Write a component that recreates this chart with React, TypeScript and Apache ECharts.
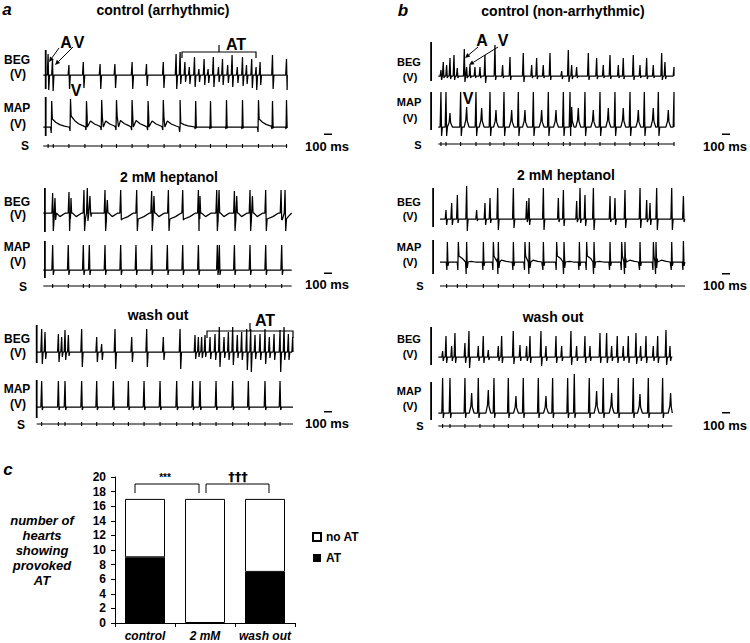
import React, { useEffect, useRef } from "react";
import * as echarts from "echarts";

// ===== Panel a : control (arrhythmic) — events [time ms, up, down, extra]
const aCtrlBEG = [[60,21,15],[115,16,16],[320,10,14],[500,13,13],[710,11,14],[895,11,13],[1110,13,14],[1290,11,11],[1500,13,13],[1660,21,14],[1710,23,9],[1770,13,7],[1825,8,9],[1890,18,12],[1945,6,7],[2010,16,10],[2060,6,8],[2125,18,12],[2190,8,7],[2240,16,10],[2305,10,8],[2360,20,12],[2425,8,8],[2490,18,11],[2540,10,9],[2605,16,13],[2660,8,15],[2710,13,10],[2865,20,14],[3040,16,15]];
const aCtrlMAP = [[105,26,6,8],[340,28,4,11],[540,26,3,10],[730,27,3,10],[915,27,3,11],[1110,27,3,11],[1310,26,3,10],[1500,27,3,10],[1710,27,5,4],[1905,26,2,0],[2090,26,2,0],[2290,27,2,0],[2490,27,2,0],[2690,27,5,8],[2865,26,2,0],[3040,27,2,0]];
const aCtrlS = [60,125,320,520,730,915,1110,1310,1510,1710,1905,2090,2290,2490,2690,2865,3040];

// ===== Panel a : 2 mM heptanol
const aHepBEG = [[117,20,18,6],[146,15,7,0],[321,21,18,6],[346,15,0,0],[508,23,18,6],[550,25,8,0],[583,17,0,0],[771,23,18,6],[800,13,0,0],[967,23,7,6],[1167,23,18,6],[1354,22,18,6],[1383,17,0,0],[1563,23,18,6],[1742,23,7,6],[1938,23,18,6],[1958,17,0,0],[2167,23,18,6],[2196,23,0,0],[2388,22,18,6],[2417,17,0,0],[2583,23,18,6],[2613,17,0,0],[2779,23,18,6],[2971,23,7,6],[3021,23,18,6]];
const aHepMAP = [[117,25,5],[312,25,5],[500,25,5],[575,25,5],[771,25,5],[967,25,5],[1158,25,5],[1354,25,5],[1550,25,5],[1742,25,5],[1938,25,5],[2175,25,5],[2200,25,5],[2388,25,5],[2583,25,5],[2779,25,5],[2979,25,5]];
const aHepS = [117,312,500,575,771,967,1158,1354,1550,1742,1938,2175,2200,2388,2583,2779,2979];

// ===== Panel a : wash out
const aWashBEG = [[62,23,12],[104,20,7],[271,18,10],[312,15,5],[354,22,8],[396,17,4],[562,23,15],[750,15,10],[812,8,8],[979,23,17],[1188,15,10],[1375,23,15],[1583,15,8],[1792,23,17],[1979,17,7],[2021,15,5],[2062,15,6],[2104,17,5],[2167,15,7],[2229,18,8],[2283,25,15],[2342,15,6],[2396,20,8],[2450,25,13],[2508,17,6],[2562,20,8],[2625,23,18],[2675,23,20],[2729,17,7],[2792,18,8],[2854,23,12],[2908,15,6],[2967,18,8],[3042,22,20],[3092,25,8],[3146,18,8],[3200,15,6]];
const aWashMAP = [[62,26,3],[271,26,3],[354,26,3],[562,26,3],[750,26,3],[958,26,3],[1146,26,3],[1342,26,3],[1542,26,3],[1750,26,3],[1950,26,3],[2042,26,3],[2242,26,3],[2450,26,3],[2646,26,3],[2854,26,3],[3042,26,3]];
const aWashS = [62,271,354,562,750,958,1146,1342,1542,1750,1950,2042,2242,2450,2646,2854,3042];

// ===== Panel b : control (non-arrhythmic)
const bCtrlBEG = [[33,6,4],[62,14,2],[104,11,2],[146,18,3],[196,21,4],[237,8,2],[325,27,6],[354,9,2],[396,11,2],[458,9,2],[521,9,2],[583,21,7],[708,31,4],[804,11,2],[896,19,4],[1062,23,6],[1167,11,2],[1229,18,3],[1312,11,2],[1396,23,4],[1542,5,3],[1625,26,6],[1667,11,3],[1729,9,2],[1875,23,4],[1979,18,3],[2062,11,2],[2146,21,3],[2250,11,2],[2312,18,3],[2437,21,4],[2521,11,2],[2604,18,3],[2687,11,2],[2792,23,4],[2833,14,3],[2946,9,2]];
const bCtrlMAP = [[33,35,9],[96,35,9],[279,35,9],[471,35,9],[646,35,9],[821,35,9],[1000,35,9],[1188,35,9],[1375,35,9],[1563,35,9],[1646,35,9],[1833,35,9],[2021,35,9],[2208,35,9],[2396,35,9],[2575,35,9],[2750,35,9],[2946,35,9]];
const bCtrlMAPPeaks = [[146,14],[354,20],[542,19],[721,17],[917,17],[1083,17],[1292,17],[1471,17],[1667,20],[1750,19],[1937,17],[2125,19],[2312,19],[2500,17],[2687,19],[2875,17]];
const bCtrlS = [33,96,279,471,646,821,1000,1188,1375,1563,1646,1833,2021,2208,2396,2575,2750,2946];

// ===== Panel b : 2 mM heptanol
const bHepBEG = [[75,9,6],[146,16,6],[217,24,4],[333,33,12],[458,9,2],[562,16,6],[625,21,4],[721,31,11],[917,31,9],[1083,18,3],[1112,21,6],[1292,31,11],[1479,21,3],[1542,29,7],[1708,18,3],[1750,31,4],[1812,24,7],[1917,31,11],[2125,23,3],[2187,21,6],[2312,29,9],[2500,31,9],[2583,19,3],[2625,16,6],[2708,31,11],[2896,31,11],[3042,23,3]];
const bHepMAP = [[92,20,8,0],[229,20,8,6],[333,20,12,0],[542,20,8,0],[667,20,8,6],[729,20,12,0],[917,20,8,0],[1062,20,8,6],[1117,20,12,0],[1292,20,8,0],[1458,20,8,6],[1550,20,12,0],[1742,20,8,0],[1833,20,8,6],[1925,20,12,0],[2125,20,8,0],[2271,20,8,6],[2312,20,12,0],[2500,20,8,0],[2667,20,8,6],[2700,20,12,0],[2896,20,8,0],[3042,21,8,0]];
const bHepS = [83,217,333,542,729,917,1117,1292,1458,1550,1742,1925,2125,2312,2500,2700,2896];

// ===== Panel b : wash out
const bWashBEG = [[54,6,4],[96,21,6],[167,11,4],[208,24,6],[333,14,6],[383,26,11],[500,11,4],[562,21,6],[625,7,3],[750,11,4],[792,21,6],[937,26,7],[1021,12,4],[1104,11,4],[1146,21,6],[1283,26,9],[1346,11,4],[1471,21,6],[1542,11,4],[1658,26,8],[1729,11,4],[1833,21,6],[1896,11,4],[2021,24,6],[2104,24,6],[2167,11,4],[2237,21,6],[2312,11,4],[2375,21,6],[2471,24,7],[2529,11,4],[2596,21,6],[2687,11,4],[2742,21,6],[2846,27,8],[2896,11,4]];
const bWashMAP = [[54,35,5],[146,35,5],[333,35,5],[500,35,5],[696,35,5],[875,35,5],[1062,35,5],[1250,35,5],[1429,35,5],[1617,35,5],[1700,39,5],[1887,35,5],[2062,35,5],[2250,35,5],[2437,35,5],[2625,35,5],[2804,35,5]];
const bWashMAPPeaks = [[417,20],[625,23],[971,17],[1346,17],[1979,22],[2167,20],[2521,19],[2904,20]];
const bWashS = [54,146,333,521,696,875,1062,1250,1429,1617,1708,1887,2062,2250,2437,2625,2804];

// ===== Panel c : bar chart
const categories = ["control", "2 mM", "wash out"];
const atCounts = [9, 0, 7];
const noAtCounts = [8, 17, 10];

const FONT = '"Liberation Sans", Arial, sans-serif';

function glyph(kind: string, e: number[]): number[][] {
  const t = e[0], up = e[1], dn = e[2] || 0, ex = e[3] || 0;
  if (kind === "spike") return [[t - 10, 0], [t, up], [t + 8, -dn], [t + 18, 0]];
  if (kind === "ap") {
    if (ex > 0)
      return [[t - 14, 0], [t - 6, -dn], [t, up], [t + 8, ex], [t + 50, ex * 0.6], [t + 100, ex * 0.3], [t + 160, ex * 0.1], [t + 210, 0]];
    return [[t - 14, 0], [t - 6, -dn], [t, up], [t + 8, -dn * 0.5], [t + 18, 0]];
  }
  if (kind === "wave") {
    if (ex > 0)
      return [[t - 10, 0], [t, up], [t + 8, -dn], [t + 18, -ex], [t + 90, -ex * 0.6], [t + 160, 0]];
    return [[t - 10, 0], [t, up], [t + 8, -dn], [t + 18, 0]];
  }
  // peak
  return [[t - 30, 0], [t - 10, up * 0.35], [t, up], [t + 8, up * 0.3], [t + 30, 0]];
}

function buildTrace(groups: { kind: string; ev: number[][] }[], dom: number) {
  const pts: number[][] = [];
  groups.forEach((g) => g.ev.forEach((e) => glyph(g.kind, e).forEach((p) => pts.push(p))));
  pts.sort((a, b) => a[0] - b[0]);
  const clipped = pts.filter((p) => p[0] >= 0 && p[0] <= dom);
  return [[0, 0], ...clipped, [dom, 0]];
}

function buildS(ticks: number[], dom: number) {
  const pts: number[][] = [[0, 0]];
  ticks.forEach((t) => {
    pts.push([t, 0], [t, 2], [t, -2], [t, 0]);
  });
  pts.push([dom, 0]);
  return pts;
}

type TraceDef = {
  groups: { kind: string; ev: number[][] }[] | null;
  s?: number[];
  x0: number; x1: number; top: number; bottom: number; base: number; dom: number;
};

const traceDefs: TraceDef[] = [
  // panel a control
  { groups: [{ kind: "spike", ev: aCtrlBEG }], x0: 43.3, x1: 287.3, top: 50, bottom: 89, base: 75, dom: 3050 },
  { groups: [{ kind: "ap", ev: aCtrlMAP }], x0: 43.3, x1: 287.3, top: 97, bottom: 136, base: 127, dom: 3050 },
  { groups: null, s: aCtrlS, x0: 43.3, x1: 287.3, top: 143, bottom: 149, base: 146, dom: 3050 },
  // panel a heptanol
  { groups: [{ kind: "wave", ev: aHepBEG }], x0: 43.3, x1: 291.7, top: 188, bottom: 232, base: 213, dom: 3104 },
  { groups: [{ kind: "spike", ev: aHepMAP }], x0: 43.3, x1: 291.7, top: 241, bottom: 278, base: 270, dom: 3104 },
  { groups: null, s: aHepS, x0: 43.3, x1: 291.7, top: 283, bottom: 289, base: 286, dom: 3104 },
  // panel a wash out
  { groups: [{ kind: "spike", ev: aWashBEG }], x0: 36.7, x1: 293, top: 325, bottom: 363, base: 352, dom: 3204 },
  { groups: [{ kind: "spike", ev: aWashMAP }], x0: 36.7, x1: 293, top: 380, bottom: 418, base: 407, dom: 3204 },
  { groups: null, s: aWashS, x0: 36.7, x1: 293, top: 421, bottom: 427, base: 424, dom: 3204 },
  // panel b control
  { groups: [{ kind: "spike", ev: bCtrlBEG }], x0: 438.3, x1: 674, top: 42, bottom: 81, base: 76, dom: 2946 },
  { groups: [{ kind: "spike", ev: bCtrlMAP }, { kind: "peak", ev: bCtrlMAPPeaks }], x0: 438.3, x1: 674, top: 92, bottom: 130, base: 127, dom: 2946 },
  { groups: null, s: bCtrlS, x0: 438.3, x1: 674, top: 141, bottom: 147, base: 144, dom: 2946 },
  // panel b heptanol
  { groups: [{ kind: "spike", ev: bHepBEG }], x0: 440, x1: 685, top: 188, bottom: 227, base: 219, dom: 3062 },
  { groups: [{ kind: "ap", ev: bHepMAP }], x0: 440, x1: 685, top: 240, bottom: 274, base: 262, dom: 3062 },
  { groups: null, s: bHepS, x0: 440, x1: 685, top: 283, bottom: 289, base: 286, dom: 3062 },
  // panel b wash out
  { groups: [{ kind: "spike", ev: bWashBEG }], x0: 438.3, x1: 672.3, top: 327, bottom: 365, base: 357, dom: 2925 },
  { groups: [{ kind: "spike", ev: bWashMAP }, { kind: "peak", ev: bWashMAPPeaks }], x0: 438.3, x1: 672.3, top: 382, bottom: 420, base: 413, dom: 2925 },
  { groups: null, s: bWashS, x0: 438.3, x1: 672.3, top: 423, bottom: 429, base: 426, dom: 2925 },
];

function txt(text: string, x: number, y: number, size: number, opts: any = {}) {
  return {
    type: "text",
    x, y,
    silent: true,
    style: {
      text,
      fill: "#000",
      fontSize: size,
      fontWeight: opts.weight || "bold",
      fontStyle: opts.italic ? "italic" : "normal",
      fontFamily: opts.family || FONT,
      textAlign: opts.align || "center",
      textVerticalAlign: "middle",
      lineHeight: opts.lineHeight,
    },
  };
}

function bar(x: number, y1: number, y2: number, w = 1.8) {
  return { type: "rect", silent: true, shape: { x, y: y1, width: w, height: y2 - y1 }, style: { fill: "#000" } };
}

function hbar(x1: number, x2: number, y: number) {
  return { type: "rect", silent: true, shape: { x: x1, y, width: x2 - x1, height: 1.5 }, style: { fill: "#000" } };
}

function poly(points: number[][], w = 1.2) {
  return { type: "polyline", silent: true, shape: { points }, style: { stroke: "#000", lineWidth: w, fill: null } };
}

function arrow(x1: number, y1: number, x2: number, y2: number) {
  const dx = x2 - x1, dy = y2 - y1;
  const L = Math.sqrt(dx * dx + dy * dy);
  const ux = dx / L, uy = dy / L;
  const bx = x2 - ux * 5, by = y2 - uy * 5;
  const px = -uy, py = ux;
  return [
    { type: "line", silent: true, shape: { x1, y1, x2: bx, y2: by }, style: { stroke: "#000", lineWidth: 1 } },
    {
      type: "polygon", silent: true,
      shape: { points: [[x2, y2], [bx + px * 2.3, by + py * 2.3], [bx - px * 2.3, by - py * 2.3]] },
      style: { fill: "#000" },
    },
  ];
}

function labels(x: number, begY: number, begV: number, mapY: number, mapV: number, sx: number, sy: number, size = 12) {
  return [
    txt("BEG", x, begY, size),
    txt("(V)", x + 1, begV, size),
    txt("MAP", x, mapY, size),
    txt("(V)", x + 1, mapV, size),
    txt("S", sx, sy, size),
  ];
}

export default function App() {
  const ref = useRef<HTMLDivElement>(null);

  useEffect(() => {
    if (!ref.current) return;
    const chart = echarts.init(ref.current, null, { renderer: "svg" });

    const grids: any[] = [];
    const xAxes: any[] = [];
    const yAxes: any[] = [];
    const series: any[] = [];

    traceDefs.forEach((d, i) => {
      grids.push({ left: d.x0, top: d.top, width: d.x1 - d.x0, height: d.bottom - d.top, containLabel: false });
      xAxes.push({ type: "value", gridIndex: i, min: 0, max: d.dom, show: false });
      yAxes.push({
        type: "value", gridIndex: i, show: false,
        min: -(d.bottom - d.base), max: d.base - d.top,
      });
      const data = d.groups ? buildTrace(d.groups, d.dom) : buildS(d.s || [], d.dom);
      series.push({
        type: "line",
        name: "trace" + i,
        xAxisIndex: i, yAxisIndex: i,
        data,
        symbol: "none",
        showSymbol: false,
        clip: false,
        silent: true,
        lineStyle: { color: "#000", width: d.groups ? 1.25 : 1.1 },
      });
    });

    const gi = traceDefs.length;
    grids.push({ left: 115, top: 477, width: 180, height: 146, containLabel: false });
    xAxes.push({
      type: "category", gridIndex: gi, data: categories,
      axisLine: { lineStyle: { color: "#000", width: 1 } },
      axisTick: { show: true, length: 4, lineStyle: { color: "#000" } },
      axisLabel: { interval: 0, color: "#000", fontWeight: "bold", fontStyle: "italic", fontSize: 12, fontFamily: FONT, margin: 7 },
    });
    yAxes.push({
      type: "value", gridIndex: gi, min: 0, max: 20, interval: 2,
      axisLine: { show: true, lineStyle: { color: "#000", width: 1 } },
      axisTick: { show: true, length: 4, lineStyle: { color: "#000" } },
      splitLine: { show: false },
      axisLabel: { color: "#000", fontWeight: "bold", fontSize: 12, fontFamily: FONT, margin: 9 },
    });
    series.push({
      type: "bar", name: "AT", stack: "total", xAxisIndex: gi, yAxisIndex: gi,
      data: atCounts, barWidth: 40,
      itemStyle: { color: "#000", borderColor: "#000", borderWidth: 0 },
    });
    series.push({
      type: "bar", name: "no AT", stack: "total", xAxisIndex: gi, yAxisIndex: gi,
      data: noAtCounts, barWidth: 40,
      itemStyle: { color: "#fff", borderColor: "#000", borderWidth: 1 },
    });

    const graphics: any[] = [
      // panel letters
      txt("a", 7, 9, 17, { italic: true }),
      txt("b", 403, 10, 17, { italic: true }),
      txt("c", 8, 469, 17, { italic: true }),
      // titles
      txt("control (arrhythmic)", 163, 10, 14),
      txt("2 mM heptanol", 169, 177, 14),
      txt("wash out", 158, 315, 14),
      txt("control (non-arrhythmic)", 563, 11, 14),
      txt("2 mM heptanol", 566, 175, 14),
      txt("wash out", 553, 317, 14),
      // row labels
      ...labels(17, 60, 74, 108, 124, 25, 146),
      ...labels(17, 202, 215, 247, 262, 23, 287),
      ...labels(17, 339, 353, 389, 404, 21, 425),
      ...labels(409, 62, 77, 102, 118, 418, 145, 11),
      ...labels(409, 202, 216, 247, 262, 420, 286, 11),
      ...labels(409, 339, 354, 391, 406, 420, 426, 11),
      // vertical scale bars
      bar(44.8, 50, 89), bar(44.8, 97, 136),
      bar(44, 188, 232), bar(44, 241, 278),
      bar(35.8, 325, 363), bar(35.8, 380, 418),
      bar(430.2, 42, 81), bar(430.2, 92, 130),
      bar(432.2, 188, 227), bar(432.2, 240, 274),
      bar(430.2, 327, 365), bar(430.2, 382, 420),
      // 100 ms scale
      txt("100 ms", 327, 146, 13), hbar(324, 332, 133.5),
      txt("100 ms", 327, 284, 13), hbar(324, 332, 272.5),
      txt("100 ms", 327, 423, 13), hbar(324, 332, 411),
      txt("100 ms", 725, 146, 13), hbar(722, 730, 133.5),
      txt("100 ms", 725, 285, 13), hbar(722, 730, 273),
      txt("100 ms", 725, 425, 13), hbar(722, 730, 412),
      // A V annotations
      txt("A", 66, 42, 16), txt("V", 79, 42, 16), txt("V", 76, 90, 16),
      ...arrow(59, 48, 49, 62), ...arrow(73, 47, 55, 65),
      txt("A", 482, 40, 16), txt("V", 503, 40, 16), txt("V", 468, 98, 16),
      ...arrow(478, 47, 465, 58), ...arrow(498, 47, 469, 65),
      // AT brackets
      poly([[182, 58], [182, 52], [256, 52], [256, 58]]),
      poly([[219, 52], [219, 45]]),
      txt("AT", 236, 44, 16),
      poly([[207, 338], [207, 331], [293, 331], [293, 338]]),
      poly([[250, 331], [250, 323]]),
      txt("AT", 265, 320, 16),
      // significance brackets
      poly([[135, 493], [135, 484], [199, 484], [199, 493]], 1),
      poly([[206, 493], [206, 484], [269, 484], [269, 493]], 1),
      txt("***", 165, 477, 10),
      txt("\u2020\u2020\u2020", 238, 476, 13, { family: '"DejaVu Sans", "Liberation Sans", sans-serif' }),
      // y axis title
      txt("number of\nhearts\nshowing\nprovoked\nAT", 42, 550, 13, { italic: true, lineHeight: 15 }),
    ];

    chart.setOption({
      animation: false,
      grid: grids,
      xAxis: xAxes,
      yAxis: yAxes,
      series,
      legend: {
        data: ["no AT", "AT"],
        orient: "vertical",
        left: 307,
        top: 526,
        itemWidth: 8,
        itemHeight: 8,
        itemGap: 9,
        icon: "rect",
        textStyle: { color: "#000", fontWeight: "bold", fontSize: 12, fontFamily: FONT },
        selectedMode: false,
      },
      graphic: graphics,
    });

    return () => chart.dispose();
  }, []);

  return (
    <div
      ref={ref}
      style={{ position: "absolute", left: 0, top: 0, width: 750, height: 643, background: "#fff" }}
    />
  );
}
